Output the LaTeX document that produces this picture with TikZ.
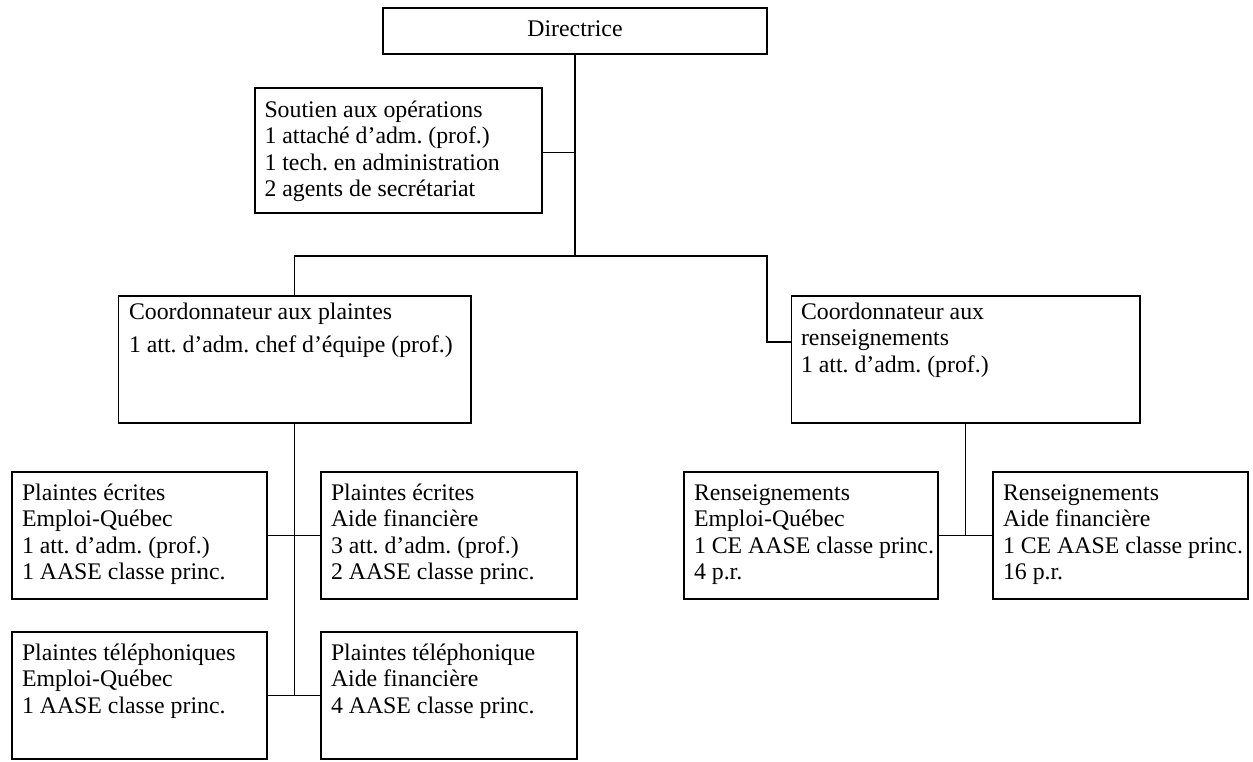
\documentclass[tikz,border=0pt]{standalone}
\usepackage{fontspec}
\setmainfont{Liberation Serif}
\frenchspacing
\tikzset{
  box/.style={draw, line width=1.3pt, inner sep=0pt, outer sep=0pt, anchor=north west},
  txt/.style={inner sep=0pt, outer sep=0pt, align=left, anchor=base west, font=\fontsize{23.8}{26.5}\selectfont\frenchspacing},
  link/.style={line width=1.1pt}
}
\begin{document}
\begin{tikzpicture}[x=1pt,y=-1pt]
\useasboundingbox (0,0) rectangle (1253,761);
% boxes
\node[box, minimum width=384pt, minimum height=46pt] (dir) at (383,8) {};
\node[box, minimum width=287pt, minimum height=125pt] (sout) at (255,88) {};
\node[box, minimum width=352.5pt, minimum height=127pt] (cpl) at (118.5,296) {};
\node[box, minimum width=348.5pt, minimum height=127pt] (cren) at (791.5,296) {};
\node[box, minimum width=255pt, minimum height=127pt] (pee) at (12,472) {};
\node[box, minimum width=256pt, minimum height=127pt] (pae) at (321,472) {};
\node[box, minimum width=255pt, minimum height=127pt] (pte) at (12,632) {};
\node[box, minimum width=256pt, minimum height=127pt] (pat) at (321,632) {};
\node[box, minimum width=254pt, minimum height=127pt] (ree) at (684,472) {};
\node[box, minimum width=255pt, minimum height=127pt] (raf) at (993,472) {};
% texts (anchored at the baseline of the last line)
\node[txt, anchor=base] (dirT) at ([yshift=-28.7pt]dir.north) {Directrice};
\node[txt] (soutT) at ([xshift=9.5pt, yshift=-108.8pt]sout.north west)
  {Soutien aux opérations\\1 attaché d’adm. (prof.)\\1 tech. en administration\\2 agents de secrétariat};
\node[txt] (cplT) at ([xshift=10.5pt, yshift=-56.7pt]cpl.north west)
  {Coordonnateur aux plaintes\\[6.5pt]1 att. d’adm. chef d’équipe (prof.)};
\node[txt] (crenT) at ([xshift=9.5pt, yshift=-76pt]cren.north west)
  {Coordonnateur aux\\renseignements\\1 att. d’adm. (prof.)};
\node[txt] (peeT) at ([xshift=10pt, yshift=-107.5pt]pee.north west)
  {Plaintes écrites\\Emploi-Québec\\1 att. d’adm. (prof.)\\1 AASE classe princ.};
\node[txt] (paeT) at ([xshift=10pt, yshift=-107.5pt]pae.north west)
  {Plaintes écrites\\Aide financière\\3 att. d’adm. (prof.)\\2 AASE classe princ.};
\node[txt] (pteT) at ([xshift=10pt, yshift=-81pt]pte.north west)
  {Plaintes téléphoniques\\Emploi-Québec\\1 AASE classe princ.};
\node[txt] (patT) at ([xshift=10pt, yshift=-81pt]pat.north west)
  {Plaintes téléphonique\\Aide financière\\4 AASE classe princ.};
\node[txt] (reeT) at ([xshift=10pt, yshift=-107.5pt]ree.north west)
  {Renseignements\\Emploi-Québec\\1 CE AASE classe princ.\\4 p.r.};
\node[txt] (rafT) at ([xshift=10pt, yshift=-107.5pt]raf.north west)
  {Renseignements\\Aide financière\\1 CE AASE classe princ.\\16 p.r.};
% junctions
\coordinate (j1) at (575,256);
\coordinate (j2) at (767,256);
% connectors
\draw[link] (dir.south) -- (j1);
\draw[link] ([yshift=-2pt]sout.east) -- ([yshift=-2pt]sout.east -| dir.south);
\draw[link] (cpl.north) |- (j2) |- ([yshift=17.5pt]cren.west);
\draw[link] (cpl.south) -- (cpl.south |- pte.east);
\draw[link] (pee.east) -- (pae.west);
\draw[link] (pte.east) -- (pat.west);
\draw[link] (cren.south) -- (cren.south |- ree.east);
\draw[link] (ree.east) -- (raf.west);
\end{tikzpicture}
\end{document}
